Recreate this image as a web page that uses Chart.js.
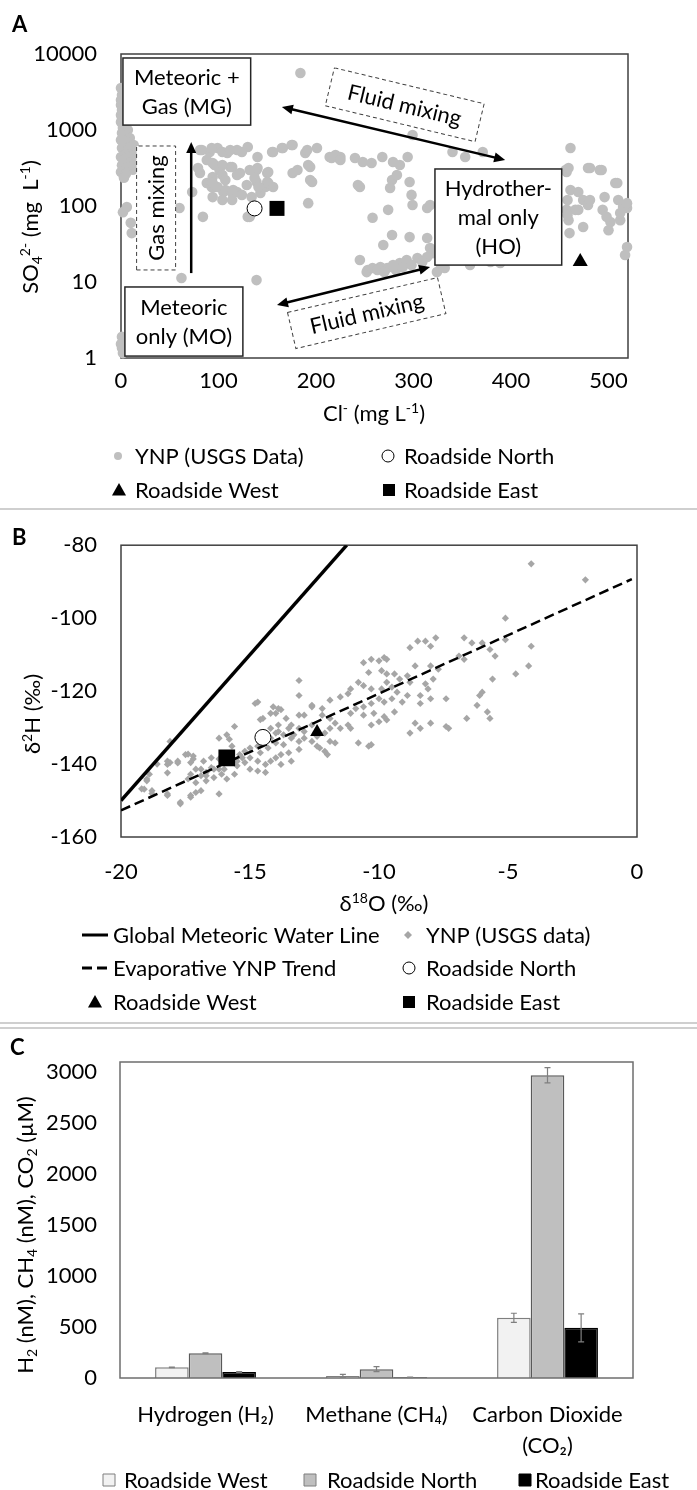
<!DOCTYPE html>
<html>
<head>
<meta charset="utf-8">
<script src="https://cdn.jsdelivr.net/npm/chart.js@4.4.1/dist/chart.umd.min.js"></script>
<style>
  body { margin: 0; background: #fff; }
  #page { position: relative; width: 697px; height: 1490px; overflow: hidden; }
  #page canvas { position: absolute; left: 0; }
</style>
</head>
<body>
<div id="page">
  <canvas id="panelA" width="697" height="508" style="top:0"></canvas>
  <canvas id="panelB" width="697" height="514" style="top:508px"></canvas>
  <canvas id="panelC" width="697" height="468" style="top:1022px"></canvas>
</div>
<script>
// ---------- Panel A: sulfate vs chloride (log y) ----------
const ynpChloride = [
  0, 1, 0, 0, 1, 0, 1, 0, 2, 2, 7, 1, 4, 9, 0, 6, 3, 10, 1, 7, 12, 4, 0, 8, 3, 10, 1, 6, 12, 0, 5, 3, 13, 14, 13,
  6, 10, 11, 2, 1, 1, 2, 0,
  60, 73, 84, 81, 91, 99, 109, 119, 130, 140, 156, 166, 176, 189, 201, 214, 225, 94, 101, 112, 122, 139, 150, 176,
  194, 196, 88, 96, 105, 115, 129, 139, 148, 94, 104, 119, 150, 192, 132, 139, 81,
  79, 88, 96, 104, 114, 104, 94, 119, 132, 140, 151, 181, 192, 194, 137, 93, 99, 107, 114, 124, 134, 143, 151, 156,
  141, 94, 107, 114, 134, 130, 62, 139,
  83, 93, 104, 112, 124, 155, 165, 175, 191, 216, 223, 240, 248, 257, 184,
  245, 245, 253, 268, 279, 286, 294, 299, 220, 225, 340, 353, 371, 243, 278, 283, 296, 276, 298, 299, 258, 274, 314,
  317, 278, 269, 296, 314, 317, 320,
  252, 258, 266, 273, 279, 286, 293, 304, 314, 324, 327, 263, 270, 282, 289, 298, 309, 332, 337, 379, 389, 358,
  461, 456, 457, 479, 493, 507, 461, 469, 474, 479, 496, 510, 515, 519, 512, 502, 494, 474, 500, 469, 457, 459, 460,
  519, 517, 459, 481, 491, 509, 466, 498, 512, 519, 481, 458, 458
];
const ynpSulfate = [
  3570, 2890, 2480, 2130, 1830, 1575, 1440, 1275, 1165, 1065, 1000, 915, 835, 785, 740, 695, 635, 615, 580, 545, 515, 470, 440, 430, 405, 380, 345, 315, 300, 280, 265, 235, 345, 470, 635,
  97, 60, 44, 83, 1.9, 1.35, 1.16, 1.53,
  94, 153, 72, 545, 514, 580, 498, 545, 598, 441, 514, 580, 635, 498, 580, 441, 441, 368, 298, 326, 272, 298, 272, 272,
  326, 207, 201, 178, 153, 162, 189, 207, 178, 131, 120, 153, 207, 109, 72, 89, 272,
  316, 403, 346, 346, 326, 256, 241, 256, 298, 316, 280, 298, 346, 220, 234, 178, 178, 162, 148, 140, 131, 148, 201, 178,
  178, 201, 220, 120, 81, 72, 11.3, 10.6,
  545, 580, 514, 545, 514, 514, 580, 635, 545, 428, 428, 428, 379, 368, 5620,
  178, 19.5, 14.4, 441, 379, 346, 441, 860, 469, 403, 514, 441, 514, 189, 220, 256, 207, 173, 140, 103, 70, 89, 94,
  103, 41.5, 30.7, 39, 38, 28, 24,
  13.5, 15.3, 15.7, 15.3, 16.7, 17.8, 19.5, 20.7, 21.3, 13.5, 17.8, 14.4, 13.5, 14.4, 15.7, 16.7, 18.3, 15.3, 19.5, 18.3, 17.8, 16.7,
  580, 298, 280, 316, 298, 201, 162, 153, 120, 103, 131, 120, 97, 94, 65, 61.5, 89, 53, 48, 89, 89, 65, 44,
  28.9, 22.7, 316, 316, 298, 201, 89, 72, 81, 109, 120, 120, 76
];
const roadsideNorthA = [137, 93];
const roadsideEastA = [160, 93];
const roadsideWestA = [471, 18.5];
const chlorideTicks = [0, 100, 200, 300, 400, 500];
const sulfateTicks = [1, 10, 100, 1000, 10000];

// ---------- Panel B: d2H vs d18O ----------
const ynpO18 = [
  -4.1, -2.0, -5.1, -4.1, -4.2, -4.7, -5.1, -5.5, -5.7, -6.0, -6.4, -6.7, -6.7, -6.9, -5.6, -6.0, -6.1, -6.2, -5.8, -5.7,
  -6.6, -7.4, -7.3, -7.4, -7.8, -8.0, -8.2, -8.5, -8.8, -7.7, -8.0, -8.6, -7.9, -8.2, -8.1, -8.4, -8.4, -8.0, -8.0, -8.4,
  -8.6, -8.8, -8.9, -8.8, -10.6, -10.3, -10.0, -9.8, -9.7, -10.4, -9.9, -9.7, -9.4, -9.2, -10.8, -10.6, -10.3, -11.1, -11.2, -11.5,
  -9.7, -9.5, -9.3, -9.9, -10.0, -9.8, -9.5, -9.1, -8.9, -10.3, -10.6, -10.9, -11.1, -10.6, -10.2, -9.8, -9.4, -10.3, -10.0, -9.7,
  -11.2, -11.5, -11.1, -10.8, -10.3, -10.4, -11.9, -11.7, -11.9, -12.2, -11.9, -12.2, -12.6, -12.9, -13.1, -13.1, -13.1, -13.9, -14.0, -14.2,
  -14.7, -14.5, -13.6, -13.4, -13.1, -12.9, -12.6, -12.1, -11.9, -11.7, -12.3, -12.0, -13.1, -13.4, -13.7, -13.9, -14.2, -13.7, -14.0, -14.3,
  -14.6, -13.5, -13.8, -14.0, -13.1, -13.4, -13.8, -14.2, -14.4, -14.7, -15.0, -15.2, -15.5, -15.0, -14.7, -14.4, -15.6, -15.9, -16.1, -16.2,
  -16.5, -16.7, -16.9, -17.1, -17.3, -17.4, -17.1, -16.7, -16.2, -17.1, -17.3, -17.7, -18.2, -18.2, -18.2, -18.1, -17.8, -17.5, -17.2, -17.3,
  -18.9, -19.0, -19.1, -18.8, -18.1, -16.2, -15.9, -15.6, -14.8, -15.5, -15.3, -16.5, -16.8, -16.9, -16.4, -16.0, -15.2, -15.0, -14.7, -14.4,
  -14.2, -14.0, -13.9, -13.5, -13.3, -12.9, -12.6, -12.4, -15.4, -15.6, -15.7, -19.0, -19.2, -18.8, -18.2, -17.7, -17.3, -16.9, -18.6, -18.2,
  -17.8, -17.4, -17.2, -16.7, -16.4, -16.2, -15.8, -14.6, -14.1, -13.8, -12.6, -12.1, -12.4
];
const ynpH2 = [
  -85.1, -89.5, -100.0, -107.7, -113.1, -115.3, -105.9, -110.4, -108.6, -106.8, -106.8, -105.4, -111.3, -110.4, -116.7, -120.3, -121.2, -123.9, -125.7, -127.5,
  -127.5, -122.1, -130.2, -129.7, -105.4, -107.7, -106.3, -106.3, -108.1, -114.0, -113.1, -113.1, -116.7, -118.0, -119.4, -121.2, -123.4, -122.1, -128.8, -130.2,
  -128.8, -131.5, -115.8, -117.6, -112.2, -111.3, -111.7, -110.8, -111.3, -114.9, -114.4, -115.3, -115.3, -116.7, -117.6, -118.5, -119.4, -119.4, -120.7, -121.6,
  -117.6, -118.9, -120.3, -119.4, -122.1, -123.0, -122.1, -123.0, -121.2, -123.4, -124.3, -124.8, -126.1, -126.6, -126.1, -127.0, -125.7, -129.3, -128.4, -127.9,
  -129.3, -130.2, -130.2, -134.2, -134.7, -135.1, -130.2, -128.8, -127.5, -126.6, -122.5, -124.8, -123.9, -126.6, -126.6, -117.1, -121.2, -124.8, -126.1, -126.1,
  -123.0, -127.5, -127.5, -129.3, -130.2, -131.1, -129.3, -131.5, -133.8, -134.2, -135.6, -137.4, -133.8, -132.9, -132.0, -131.1, -130.2, -134.7, -134.2, -135.6,
  -136.9, -136.9, -137.4, -138.3, -136.0, -139.2, -140.1, -139.2, -140.1, -139.2, -138.3, -139.6, -140.5, -141.4, -141.9, -142.3, -142.8, -144.1, -142.8, -141.4,
  -141.0, -142.3, -143.2, -141.4, -142.8, -144.1, -145.1, -144.6, -148.2, -147.8, -149.1, -150.9, -148.2, -140.1, -139.2, -139.6, -139.2, -137.4, -137.8, -139.6,
  -142.8, -144.1, -146.9, -147.3, -133.8, -132.9, -132.0, -129.7, -123.4, -139.2, -138.3, -138.3, -139.2, -141.4, -143.7, -141.4, -136.5, -135.6, -135.1, -133.8,
  -132.9, -131.5, -129.3, -130.2, -132.0, -132.9, -133.8, -132.4, -137.4, -139.2, -135.1, -144.6, -146.8, -148.1, -148.6, -150.5, -148.6, -147.3, -140.0, -142.4,
  -139.7, -137.3, -138.6, -143.2, -141.4, -138.6, -133.2, -127.8, -124.3, -125.1, -124.3, -136.5, -135.1
];
const gmwlO18 = [-20, -11.25];
const gmwlH2 = [-150, -80];
const evapO18 = [-20, -0.2];
const evapH2 = [-152.7, -89.3];
const roadsideNorthB = [-14.5, -132.7];
const roadsideEastB = [-15.9, -138.3];
const roadsideWestB = [-12.4, -131.2];
const o18Ticks = [-20, -15, -10, -5, 0];
const h2Ticks = [-160, -140, -120, -100, -80];

// ---------- Panel C: dissolved gases ----------
const gasLabels = ['Hydrogen (H₂)', 'Methane (CH₄)', ['Carbon Dioxide', '(CO₂)']];
const westGas = [105, 20, 590];
const northGas = [243, 87, 2970];
const eastGas = [59, 7, 492];
const westGasErr = [3, 15, 45];
const northGasErr = [3, 25, 75];
const eastGasErr = [3, 3, 138];
const gasTicks = [0, 500, 1000, 1500, 2000, 2500, 3000];

const FONT = "Lato, 'DejaVu Sans', sans-serif";
Chart.defaults.font.family = FONT;
Chart.defaults.font.size = 22;
Chart.defaults.color = '#000';
Chart.defaults.animation = false;
Chart.defaults.events = [];
Chart.defaults.plugins.legend.display = false;
Chart.defaults.plugins.tooltip.enabled = false;

const pairs = (xs, ys) => xs.map((x, i) => ({ x: x, y: ys[i] }));
const fixedTicks = (list) => (scale) => { scale.ticks = list.map(v => ({ value: v })); };
const noGrid = { display: false, drawTicks: false };

// text with sub/superscript pieces, centred on (cx, cy)
function richText(ctx, parts, cx, cy, rotated) {
  const big = 22, small = 14;
  ctx.save();
  ctx.translate(cx, cy);
  if (rotated) ctx.rotate(-Math.PI / 2);
  ctx.textAlign = 'left';
  ctx.textBaseline = 'alphabetic';
  ctx.fillStyle = '#000';
  let total = 0;
  const widths = parts.map(([t, k]) => {
    ctx.font = (k ? small : big) + 'px ' + FONT;
    const w = ctx.measureText(t).width;
    total += w;
    return w;
  });
  let x = -total / 2;
  const base = big * 0.36;
  parts.forEach(([t, k], i) => {
    ctx.font = (k ? small : big) + 'px ' + FONT;
    const dy = k === 'sup' ? -big * 0.38 : k === 'sub' ? big * 0.18 : 0;
    ctx.fillText(t, x, base + dy);
    x += widths[i];
  });
  ctx.restore();
}

function panelLetter(ctx, letter, x, y) {
  ctx.save();
  ctx.font = 'bold 22px ' + FONT;
  ctx.fillStyle = '#000';
  ctx.textBaseline = 'middle';
  ctx.fillText(letter, x, y);
  ctx.restore();
}

function frame(ctx, area, color) {
  ctx.save();
  ctx.strokeStyle = color;
  ctx.lineWidth = 1.5;
  ctx.strokeRect(area.left, area.top, area.right - area.left, area.bottom - area.top);
  ctx.restore();
}

function divider(ctx, y) {
  ctx.save();
  ctx.strokeStyle = '#cfcfcf';
  ctx.lineWidth = 2;
  ctx.beginPath();
  ctx.moveTo(0, y);
  ctx.lineTo(697, y);
  ctx.stroke();
  ctx.restore();
}

function legendMark(ctx, kind, x, y) {
  ctx.save();
  ctx.lineWidth = 1;
  ctx.strokeStyle = '#000';
  ctx.fillStyle = '#000';
  ctx.beginPath();
  if (kind === 'dot') {
    ctx.fillStyle = '#bfbfbf';
    ctx.arc(x, y, 4, 0, Math.PI * 2);
    ctx.fill();
  } else if (kind === 'ring') {
    ctx.fillStyle = '#fff';
    ctx.arc(x, y, 6, 0, Math.PI * 2);
    ctx.fill();
    ctx.stroke();
  } else if (kind === 'tri') {
    ctx.moveTo(x, y - 7);
    ctx.lineTo(x + 7, y + 5.5);
    ctx.lineTo(x - 7, y + 5.5);
    ctx.closePath();
    ctx.fill();
  } else if (kind === 'square') {
    ctx.fillRect(x - 6, y - 6, 12, 12);
  } else if (kind === 'diamond') {
    ctx.fillStyle = '#a6a6a6';
    ctx.moveTo(x - 4, y);
    ctx.lineTo(x, y - 4);
    ctx.lineTo(x + 4, y);
    ctx.lineTo(x, y + 4);
    ctx.closePath();
    ctx.fill();
  } else if (kind === 'solid' || kind === 'dashed') {
    ctx.lineWidth = 3;
    if (kind === 'dashed') ctx.setLineDash([10, 5]);
    ctx.moveTo(x - 13, y);
    ctx.lineTo(x + 13, y);
    ctx.stroke();
  } else {
    const fills = { boxWhite: '#f2f2f2', boxGray: '#bfbfbf', boxBlack: '#000' };
    ctx.fillStyle = fills[kind];
    ctx.strokeStyle = kind === 'boxBlack' ? '#000' : '#7f7f7f';
    ctx.rect(x - 6, y - 6, 12, 12);
    ctx.fill();
    ctx.stroke();
  }
  ctx.restore();
}

function drawLegend(ctx, items) {
  items.forEach(([kind, mx, tx, y, label]) => {
    legendMark(ctx, kind, mx, y);
    ctx.save();
    ctx.font = '22px ' + FONT;
    ctx.fillStyle = '#000';
    ctx.textBaseline = 'middle';
    ctx.fillText(label, tx, y + 1);
    ctx.restore();
  });
}

function arrowHead(ctx, fx, fy, x, y) {
  const a = Math.atan2(y - fy, x - fx), L = 11, W = 5;
  ctx.beginPath();
  ctx.moveTo(x, y);
  ctx.lineTo(x - L * Math.cos(a) + W * Math.sin(a), y - L * Math.sin(a) - W * Math.cos(a));
  ctx.lineTo(x - L * Math.cos(a) - W * Math.sin(a), y - L * Math.sin(a) + W * Math.cos(a));
  ctx.closePath();
  ctx.fill();
}

function arrow(ctx, x1, y1, x2, y2, both) {
  const a = Math.atan2(y2 - y1, x2 - x1), cut = 8;
  ctx.save();
  ctx.strokeStyle = '#000';
  ctx.fillStyle = '#000';
  ctx.lineWidth = 2.5;
  ctx.beginPath();
  ctx.moveTo(both ? x1 + cut * Math.cos(a) : x1, both ? y1 + cut * Math.sin(a) : y1);
  ctx.lineTo(x2 - cut * Math.cos(a), y2 - cut * Math.sin(a));
  ctx.stroke();
  arrowHead(ctx, x1, y1, x2, y2);
  if (both) arrowHead(ctx, x2, y2, x1, y1);
  ctx.restore();
}

function labelBox(ctx, cx, cy, w, h, angle, lines, dashed) {
  ctx.save();
  ctx.translate(cx, cy);
  ctx.rotate(angle * Math.PI / 180);
  ctx.fillStyle = '#fff';
  ctx.fillRect(-w / 2, -h / 2, w, h);
  ctx.strokeStyle = dashed ? '#404040' : '#262626';
  ctx.lineWidth = dashed ? 1 : 1.5;
  if (dashed) ctx.setLineDash([4, 3]);
  ctx.strokeRect(-w / 2, -h / 2, w, h);
  ctx.setLineDash([]);
  ctx.fillStyle = '#000';
  ctx.font = '22px ' + FONT;
  ctx.textAlign = 'center';
  ctx.textBaseline = 'middle';
  const gap = 29;
  lines.forEach((t, i) => ctx.fillText(t, 0, (i - (lines.length - 1) / 2) * gap + 1));
  ctx.restore();
}

// Panel A annotation layout, anchored in data units (Cl, SO4)
const endMemberBoxes = [
  { lines: ['Meteoric +', 'Gas (MG)'], x0: 2, x1: 133, y0: 1160, y1: 8860 },
  { lines: ['Meteoric', 'only (MO)'], x0: 4, x1: 125, y0: 1.06, y1: 8.6 },
  { lines: ['Hydrother-', 'mal only', '(HO)'], x0: 322, x1: 452, y0: 16.7, y1: 307 }
];
const mixingTags = [
  { text: 'Fluid mixing', x: 291, y: 2150, w: 154, h: 39, angle: 13.5 },
  { text: 'Fluid mixing', x: 252, y: 3.9, w: 154, h: 37, angle: -13.1 }
];
const gasTag = { text: 'Gas mixing', x0: 16, x1: 56, y0: 14.4, y1: 616 };
const mixingArrows = [
  { from: [72, 13.1], to: [72, 695], both: false },
  { from: [165, 2010], to: [394, 403], both: true },
  { from: [160, 4.98], to: [317, 15.7], both: true }
];

const panelADecor = {
  id: 'panelADecor',
  beforeDatasetsDraw(chart) {
    frame(chart.ctx, chart.chartArea, '#404040');
  },
  afterDatasetsDraw(chart) {
    const ctx = chart.ctx, sx = chart.scales.x, sy = chart.scales.y;
    const px = v => sx.getPixelForValue(v), py = v => sy.getPixelForValue(v);
    mixingArrows.forEach(a => arrow(ctx, px(a.from[0]), py(a.from[1]), px(a.to[0]), py(a.to[1]), a.both));
    endMemberBoxes.forEach(b => {
      const l = px(b.x0), r = px(b.x1), t = py(b.y1), btm = py(b.y0);
      labelBox(ctx, (l + r) / 2, (t + btm) / 2, r - l, btm - t, 0, b.lines, false);
    });
    mixingTags.forEach(m => labelBox(ctx, px(m.x), py(m.y), m.w, m.h, m.angle, [m.text], true));
    const gl = px(gasTag.x0), gr = px(gasTag.x1), gt = py(gasTag.y1), gb = py(gasTag.y0);
    labelBox(ctx, (gl + gr) / 2, (gt + gb) / 2, gb - gt, gr - gl, -90, [gasTag.text], true);
  },
  afterDraw(chart) {
    const ctx = chart.ctx;
    panelLetter(ctx, 'A', 12, 25);
    richText(ctx, [['SO', ''], ['4', 'sub'], ['2-', 'sup'], [' (mg  L', ''], ['-1', 'sup'], [')', '']], 30, 227, true);
    richText(ctx, [['Cl', ''], ['-', 'sup'], [' (mg L', ''], ['-1', 'sup'], [')', '']], 374, 413, false);
    drawLegend(ctx, [
      ['dot', 118, 135, 456, 'YNP (USGS Data)'],
      ['ring', 388, 404, 456, 'Roadside North'],
      ['tri', 119, 135, 490, 'Roadside West'],
      ['square', 389, 404, 490, 'Roadside East']
    ]);
  }
};

new Chart(document.getElementById('panelA'), {
  type: 'scatter',
  data: {
    datasets: [
      { label: 'Roadside West', data: pairs([roadsideWestA[0]], [roadsideWestA[1]]), pointStyle: 'triangle',
        pointRadius: 8.7, backgroundColor: '#000', borderColor: '#000', borderWidth: 0, clip: false },
      { label: 'Roadside East', data: pairs([roadsideEastA[0]], [roadsideEastA[1]]), pointStyle: 'rect',
        pointRadius: 10.6, backgroundColor: '#000', borderColor: '#000', borderWidth: 0, clip: false },
      { label: 'Roadside North', data: pairs([roadsideNorthA[0]], [roadsideNorthA[1]]), pointStyle: 'circle',
        pointRadius: 7.5, backgroundColor: '#fff', borderColor: '#000', borderWidth: 1, clip: false },
      { label: 'YNP (USGS Data)', data: pairs(ynpChloride, ynpSulfate), pointStyle: 'circle',
        pointRadius: 5.3, backgroundColor: '#bfbfbf', borderWidth: 0, clip: false }
    ]
  },
  options: {
    responsive: false,
    layout: { padding: { left: 0, right: 69, top: 54, bottom: 0 } },
    scales: {
      x: {
        type: 'linear', min: 0, max: 520,
        afterFit: s => { s.height = 150; },
        afterBuildTicks: fixedTicks(chlorideTicks),
        grid: noGrid, border: { display: false },
        ticks: { padding: 10, callback: v => String(v) }
      },
      y: {
        type: 'logarithmic', min: 1, max: 10000,
        afterFit: s => { s.width = 121; },
        afterBuildTicks: fixedTicks(sulfateTicks),
        grid: noGrid, border: { display: false },
        ticks: { padding: 24, callback: v => String(v) }
      }
    }
  },
  plugins: [panelADecor]
});

// ---------- Panel B chart ----------
const panelBDecor = {
  id: 'panelBDecor',
  beforeDatasetsDraw(chart) {
    frame(chart.ctx, chart.chartArea, '#404040');
  },
  afterDraw(chart) {
    const ctx = chart.ctx;
    divider(ctx, 1);
    panelLetter(ctx, 'B', 12, 30);
    richText(ctx, [['δ', ''], ['2', 'sup'], ['H (‰)', '']], 32, 206, true);
    richText(ctx, [['δ', ''], ['18', 'sup'], ['O (‰)', '']], 384, 395, false);
    drawLegend(ctx, [
      ['solid', 95, 113, 427, 'Global Meteoric Water Line'],
      ['diamond', 408, 426, 427, 'YNP (USGS data)'],
      ['dashed', 95, 113, 460, 'Evaporative YNP Trend'],
      ['ring', 409, 426, 460, 'Roadside North'],
      ['tri', 95, 113, 494, 'Roadside West'],
      ['square', 409, 426, 494, 'Roadside East']
    ]);
  }
};

new Chart(document.getElementById('panelB'), {
  type: 'scatter',
  data: {
    datasets: [
      { label: 'Roadside West', data: pairs([roadsideWestB[0]], [roadsideWestB[1]]), pointStyle: 'triangle',
        pointRadius: 8, backgroundColor: '#000', borderWidth: 0 },
      { label: 'Roadside North', data: pairs([roadsideNorthB[0]], [roadsideNorthB[1]]), pointStyle: 'circle',
        pointRadius: 8, backgroundColor: '#fff', borderColor: '#000', borderWidth: 1 },
      { label: 'Roadside East', data: pairs([roadsideEastB[0]], [roadsideEastB[1]]), pointStyle: 'rect',
        pointRadius: 11.8, backgroundColor: '#000', borderWidth: 0 },
      { label: 'Evaporative YNP Trend', data: pairs(evapO18, evapH2), showLine: true, pointRadius: 0,
        borderColor: '#000', borderWidth: 2.5, borderDash: [10, 5] },
      { label: 'Global Meteoric Water Line', data: pairs(gmwlO18, gmwlH2), showLine: true, pointRadius: 0,
        borderColor: '#000', borderWidth: 3.5 },
      { label: 'YNP (USGS data)', data: pairs(ynpO18, ynpH2), pointStyle: 'rectRot',
        pointRadius: 3.6, backgroundColor: '#a6a6a6', borderWidth: 0 }
    ]
  },
  options: {
    responsive: false,
    layout: { padding: { left: 0, right: 60, top: 33, bottom: 0 } },
    scales: {
      x: {
        type: 'linear', min: -20, max: 0,
        afterFit: s => { s.height = 185; },
        afterBuildTicks: fixedTicks(o18Ticks),
        grid: noGrid, border: { display: false },
        ticks: { padding: 22 }
      },
      y: {
        type: 'linear', min: -160, max: -80,
        afterFit: s => { s.width = 121; },
        afterBuildTicks: fixedTicks(h2Ticks),
        grid: noGrid, border: { display: false },
        ticks: { padding: 24 }
      }
    }
  },
  plugins: [panelBDecor]
});

// ---------- Panel C chart ----------
const panelCDecor = {
  id: 'panelCDecor',
  afterDatasetsDraw(chart) {
    const ctx = chart.ctx, sy = chart.scales.y;
    frame(ctx, chart.chartArea, '#6e6e6e');
    ctx.save();
    ctx.strokeStyle = '#7f7f7f';
    ctx.lineWidth = 1.2;
    chart.data.datasets.forEach((ds, i) => {
      chart.getDatasetMeta(i).data.forEach((bar, j) => {
        const top = sy.getPixelForValue(ds.data[j] + ds.errorBars[j]);
        const bot = sy.getPixelForValue(Math.max(0, ds.data[j] - ds.errorBars[j]));
        ctx.beginPath();
        ctx.moveTo(bar.x, top); ctx.lineTo(bar.x, bot);
        ctx.moveTo(bar.x - 3, top); ctx.lineTo(bar.x + 3, top);
        ctx.moveTo(bar.x - 3, bot); ctx.lineTo(bar.x + 3, bot);
        ctx.stroke();
      });
    });
    ctx.restore();
  },
  afterDraw(chart) {
    const ctx = chart.ctx;
    divider(ctx, 1);
    divider(ctx, 6);
    panelLetter(ctx, 'C', 10, 26);
    richText(ctx, [['H', ''], ['2', 'sub'], [' (nM), CH', ''], ['4', 'sub'], [' (nM), CO', ''], ['2', 'sub'], [' (µM)', '']], 25, 213, true);
    drawLegend(ctx, [
      ['boxWhite', 109, 124, 458, 'Roadside West'],
      ['boxGray', 310, 327, 458, 'Roadside North'],
      ['boxBlack', 525, 535, 458, 'Roadside East']
    ]);
  }
};

new Chart(document.getElementById('panelC'), {
  type: 'bar',
  data: {
    labels: gasLabels,
    datasets: [
      { label: 'Roadside West', data: westGas, errorBars: westGasErr, backgroundColor: '#f2f2f2', borderColor: '#7f7f7f', borderWidth: 1.5 },
      { label: 'Roadside North', data: northGas, errorBars: northGasErr, backgroundColor: '#bfbfbf', borderColor: '#595959', borderWidth: 1.5 },
      { label: 'Roadside East', data: eastGas, errorBars: eastGasErr, backgroundColor: '#000', borderColor: '#000', borderWidth: 1.5 }
    ]
  },
  options: {
    responsive: false,
    categoryPercentage: 0.59,
    barPercentage: 1.0,
    layout: { padding: { left: 0, right: 64, top: 40, bottom: 0 } },
    scales: {
      x: {
        afterFit: s => { s.height = 112; },
        grid: noGrid, border: { display: false },
        ticks: { padding: 22, maxRotation: 0, autoSkip: false, font: { size: 22, lineHeight: 1.4 } }
      },
      y: {
        min: 0, max: 3100,
        afterFit: s => { s.width = 120; },
        afterBuildTicks: fixedTicks(gasTicks),
        grid: noGrid, border: { display: false },
        ticks: { padding: 23, callback: v => String(v) }
      }
    }
  },
  plugins: [panelCDecor]
});
</script>
</body>
</html>
